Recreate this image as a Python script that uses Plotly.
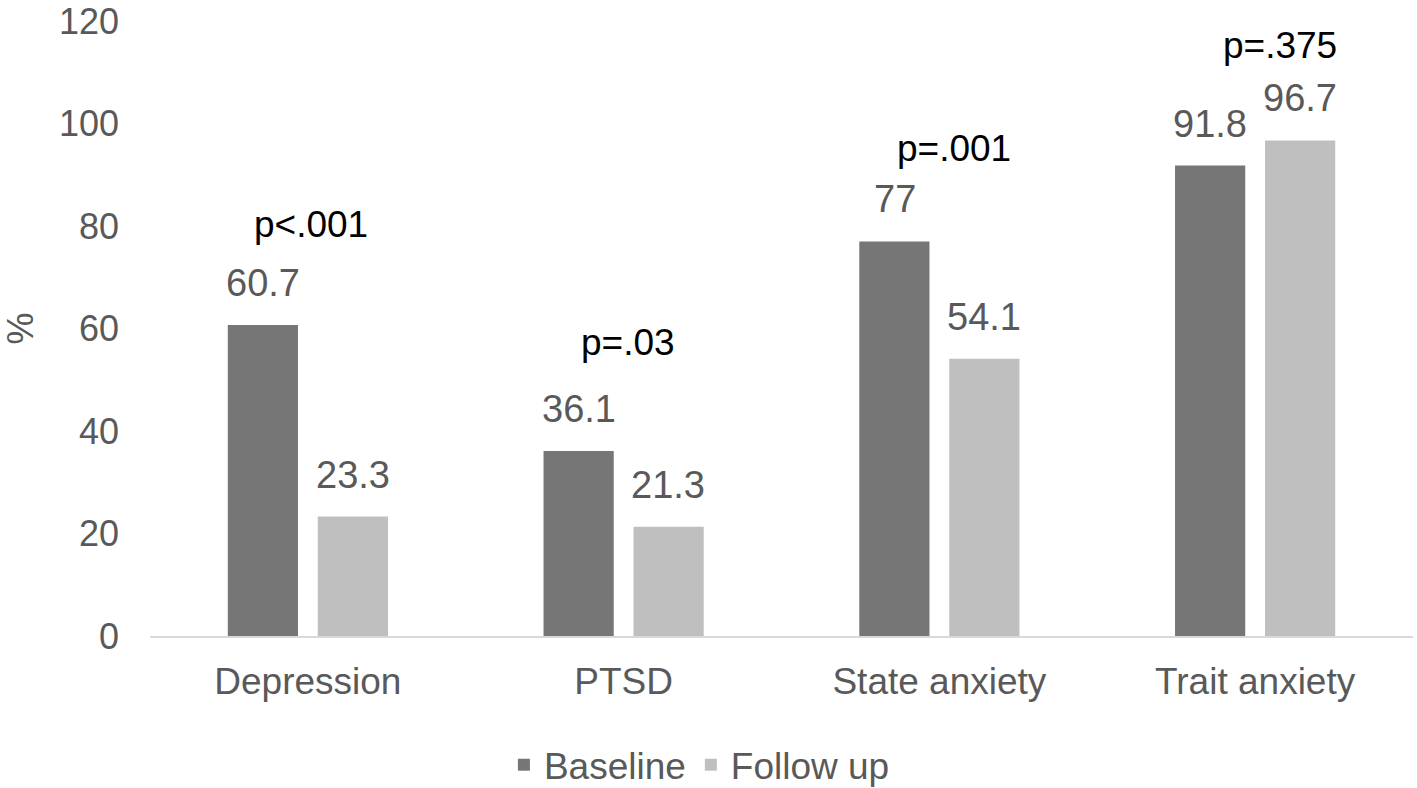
import plotly.graph_objects as go

# datos
categories = ["Depression", "PTSD", "State anxiety", "Trait anxiety"]
baseline = [60.7, 36.1, 77, 91.8]
follow_up = [23.3, 21.3, 54.1, 96.7]
p_labels = ["p<.001", "p=.03", "p=.001", "p=.375"]
p_heights = [80.2, 57.2, 95.2, 115.3]

# posiciones de las etiquetas p (desplazamiento en unidades de categoria)
p_offsets = [0.01, 0.013, 0.047, 0.079]

dark = "#767676"
light = "#bfbfbf"
txt = "#595959"
fnt = "Liberation Sans, Arial, sans-serif"

fig = go.Figure()
fig.add_trace(go.Bar(x=categories, y=baseline, name="Baseline",
                     marker=dict(color=dark, line=dict(width=0))))
fig.add_trace(go.Bar(x=categories, y=follow_up, name="Follow up",
                     marker=dict(color=light, line=dict(width=0))))

annotations = []
# etiquetas de valor sobre cada barra
for i, (b, f) in enumerate(zip(baseline, follow_up)):
    for val, dx in ((b, -0.142), (f, 0.142)):
        annotations.append(dict(
            x=i + dx, y=val, xref="x", yref="y", text=f"{val:g}",
            showarrow=False, yanchor="bottom", yshift=19,
            font=dict(family=fnt, size=38, color=txt)))

# valores p
for i, (lab, h) in enumerate(zip(p_labels, p_heights)):
    annotations.append(dict(
        x=i + p_offsets[i], y=h, xref="x", yref="y", text=lab,
        showarrow=False, yanchor="middle",
        font=dict(family=fnt, size=37, color="black")))

fig.update_layout(
    width=1417, height=788,
    margin=dict(l=150, r=4, t=21, b=152, autoexpand=False),
    paper_bgcolor="white", plot_bgcolor="white",
    barmode="group", bargap=0.43, bargroupgap=0.22,
    font=dict(family=fnt, size=36, color=txt),
    showlegend=True,
    legend=dict(orientation="h", x=0.435, xanchor="center",
                y=-0.21, yanchor="middle",
                font=dict(family=fnt, size=37, color=txt)),
    annotations=annotations,
)
fig.update_xaxes(showline=True, linecolor="#d9d9d9", linewidth=2,
                 ticks="", ticklabelstandoff=12, automargin=False,
                 tickfont=dict(family=fnt, size=37, color=txt))
fig.update_yaxes(range=[0, 120], dtick=20, showgrid=False, zeroline=False,
                 showline=False, ticks="", ticklabelstandoff=30,
                 automargin=False, ticklabeloverflow="allow",
                 tickfont=dict(family=fnt, size=36, color=txt),
                 title=dict(text="%", standoff=36,
                            font=dict(family=fnt, size=36, color=txt)))

# quitar el margen de 8px del body para que la figura quede en 0,0
fig.write_html("out.html", config={"displayModeBar": False},
               post_script="document.body.style.margin='0px';")
